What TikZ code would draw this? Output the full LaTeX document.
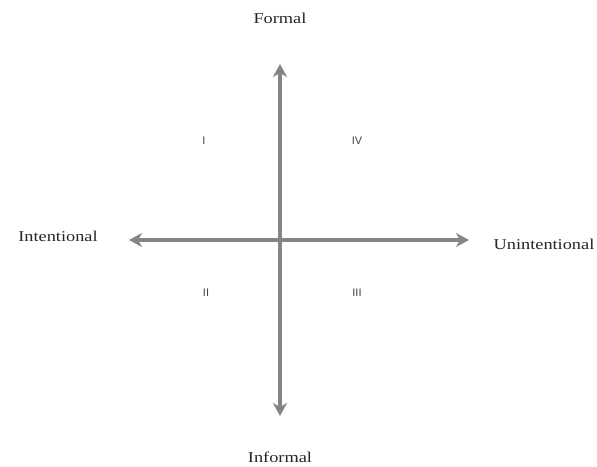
\documentclass[tikz,border=0pt]{standalone}
\usepackage{fontspec}
\setmainfont[FakeStretch=1.22]{Liberation Serif}
\newfontfamily\numfont{Liberation Sans}
\usetikzlibrary{arrows.meta}
\definecolor{axisgray}{HTML}{858585}
\tikzset{
  axis/.style={draw=axisgray, line width=3.2pt, {Stealth[length=13pt,width=14pt,inset=4pt]}-{Stealth[length=13pt,width=14pt,inset=4pt]}},
  lbl/.style={font=\fontsize{15}{17}\selectfont, text=black!85, inner sep=0pt},
  quad/.style={font=\numfont\fontsize{11}{12}\selectfont, text=black!75, inner sep=0pt}
}
\begin{document}
\begin{tikzpicture}[x=1pt,y=-1pt]
\useasboundingbox (0,0) rectangle (597,466);
\coordinate (top) at (280,64);
\coordinate (bot) at (280,416);
\coordinate (left) at (129,240);
\coordinate (right) at (469,240);
\draw[axis] (bot) -- (top);
\draw[axis] (left) -- (right);
\node[lbl] (formal) at (280,18) {Formal};
\node[lbl] (informal) at (280,457) {Informal};
\node[lbl] (intent) at (58,236) {Intentional};
\node[lbl] (unintent) at (544,244) {Unintentional};
\node[quad] (q1) at (204,141) {I};
\node[quad] (q4) at (357,141) {IV};
\node[quad] (q2) at (206,293) {II};
\node[quad] (q3) at (357,293) {III};
\end{tikzpicture}
\end{document}
